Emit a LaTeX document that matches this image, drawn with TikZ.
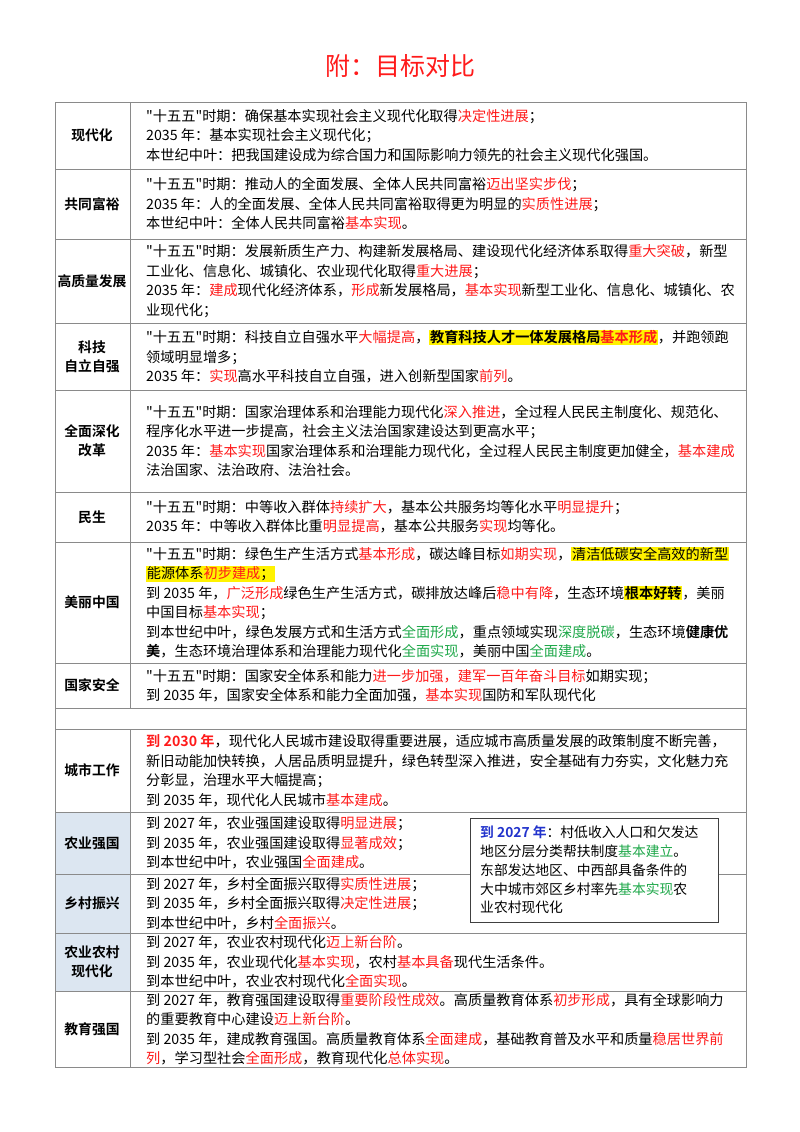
\documentclass[tikz,border=0pt]{standalone}
\usepackage{fontspec}
\setmainfont{Noto Sans CJK SC}[BoldFont={Noto Sans CJK SC Bold},Ligatures=TeXOff]
\definecolor{myred}{HTML}{FF1A1A}
\definecolor{mygreen}{HTML}{1FA84A}
\definecolor{myblue}{HTML}{2233CC}
\definecolor{gridc}{HTML}{8A8A8A}
\definecolor{cellblue}{HTML}{DCE6F1}
\newcommand\myR[1]{\textcolor{myred}{#1}}
\newcommand\myG[1]{\textcolor{mygreen}{#1}}
\newcommand\myY[1]{{\setlength\fboxsep{0.6pt}\colorbox{yellow}{#1}}}
\newcommand\qq{"十五五"时期}
\begin{document}
\begin{tikzpicture}[x=1pt,y=-1pt,
  lab/.style={font=\bfseries\fontsize{13.8}{19}\selectfont,align=center,inner sep=0},
  txt/.style={font=\fontsize{14.2}{19.5}\selectfont,align=left,anchor=west,inner sep=0},
  grid/.style={draw=gridc,line width=0.9pt}]
\useasboundingbox (0,0) rectangle (800,1132);
\node (title) at (400,66) {\fontsize{25}{30}\selectfont\textcolor{myred}{附：目标对比}};
% shading
\fill[cellblue] (55,812) rectangle (130,991);
% grid
\draw[grid] (55,102) rectangle (746,1067);
\draw[grid] (130,102) -- (130,708) (130,729) -- (130,1067);
\foreach \y in {169,239,323,390,492,542,663,708,729,812,874,933,991}
  \draw[grid] (55,\y) -- (746,\y);
% labels
\node[lab] (l1) at (92,135.5) {现代化};
\node[lab] (l2) at (92,204) {共同富裕};
\node[lab] (l3) at (92,281) {高质量发展};
\node[lab] (l4) at (92,356.5) {科技\\自立自强};
\node[lab] (l5) at (92,441) {全面深化\\改革};
\node[lab] (l6) at (92,517) {民生};
\node[lab] (l7) at (92,602.5) {美丽中国};
\node[lab] (l8) at (92,685.5) {国家安全};
\node[lab] (l9) at (92,770.5) {城市工作};
\node[lab] (l10) at (92,843) {农业强国};
\node[lab] (l11) at (92,903.5) {乡村振兴};
\node[lab] (l12) at (92,962) {农业农村\\现代化};
\node[lab] (l13) at (92,1029) {教育强国};
% texts
\node[txt] (t1) at (146,135.5) {\qq：确保基本实现社会主义现代化取得\myR{决定性进展}；\\2035 年：基本实现社会主义现代化；\\本世纪中叶：把我国建设成为综合国力和国际影响力领先的社会主义现代化强国。};
\node[txt] (t2) at (146,204) {\qq：推动人的全面发展、全体人民共同富裕\myR{迈出坚实步伐}；\\2035 年：人的全面发展、全体人民共同富裕取得更为明显的\myR{实质性进展}；\\本世纪中叶：全体人民共同富裕\myR{基本实现}。};
\node[txt] (t3) at (146,281) {\qq：发展新质生产力、构建新发展格局、建设现代化经济体系取得\myR{重大突破}，新型\\工业化、信息化、城镇化、农业现代化取得\myR{重大进展}；\\2035 年：\myR{建成}现代化经济体系，\myR{形成}新发展格局，\myR{基本实现}新型工业化、信息化、城镇化、农\\业现代化；};
\node[txt] (t4) at (146,356.5) {\qq：科技自立自强水平\myR{大幅提高}，\myY{\textbf{教育科技人才一体发展格局}\myR{\textbf{基本形成}}}，并跑领跑\\领域明显增多；\\2035 年：\myR{实现}高水平科技自立自强，进入创新型国家\myR{前列}。};
\node[txt] (t5) at (146,441) {\qq：国家治理体系和治理能力现代化\myR{深入推进}，全过程人民民主制度化、规范化、\\程序化水平进一步提高，社会主义法治国家建设达到更高水平；\\2035 年：\myR{基本实现}国家治理体系和治理能力现代化，全过程人民民主制度更加健全，\myR{基本建成}\\法治国家、法治政府、法治社会。};
\node[txt] (t6) at (146,517) {\qq：中等收入群体\myR{持续扩大}，基本公共服务均等化水平\myR{明显提升}；\\2035 年：中等收入群体比重\myR{明显提高}，基本公共服务\myR{实现}均等化。};
\node[txt] (t7) at (146,602.5) {\qq：绿色生产生活方式\myR{基本形成}，碳达峰目标\myR{如期实现}，\myY{清洁低碳安全高效的新型}\\\myY{能源体系\myR{初步建成}；}\\到 2035 年，\myR{广泛形成}绿色生产生活方式，碳排放达峰后\myR{稳中有降}，生态环境\myY{\textbf{根本好转}}，美丽\\中国目标\myR{基本实现}；\\到本世纪中叶，绿色发展方式和生活方式\myG{全面形成}，重点领域实现\myG{深度脱碳}，生态环境\textbf{健康优}\\\textbf{美}，生态环境治理体系和治理能力现代化\myG{全面实现}，美丽中国\myG{全面建成}。};
\node[txt] (t8) at (146,685.5) {\qq：国家安全体系和能力\myR{进一步加强，建军一百年奋斗目标}如期实现；\\到 2035 年，国家安全体系和能力全面加强，\myR{基本实现}国防和军队现代化};
\node[txt] (t9) at (146,770.5) {\myR{\textbf{到 2030 年}}，现代化人民城市建设取得重要进展，适应城市高质量发展的政策制度不断完善，\\新旧动能加快转换，人居品质明显提升，绿色转型深入推进，安全基础有力夯实，文化魅力充\\分彰显，治理水平大幅提高；\\到 2035 年，现代化人民城市\myR{基本建成}。};
\node[txt] (t10) at (146,843) {到 2027 年，农业强国建设取得\myR{明显进展}；\\到 2035 年，农业强国建设取得\myR{显著成效}；\\到本世纪中叶，农业强国\myR{全面建成}。};
\node[txt] (t11) at (146,903.5) {到 2027 年，乡村全面振兴取得\myR{实质性进展}；\\到 2035 年，乡村全面振兴取得\myR{决定性进展}；\\到本世纪中叶，乡村\myR{全面振兴}。};
\node[txt] (t12) at (146,962) {到 2027 年，农业农村现代化\myR{迈上新台阶}。\\到 2035 年，农业现代化\myR{基本实现}，农村\myR{基本具备}现代生活条件。\\到本世纪中叶，农业农村现代化\myR{全面实现}。};
\node[txt] (t13) at (146,1029) {到 2027 年，教育强国建设取得\myR{重要阶段性成效}。高质量教育体系\myR{初步形成}，具有全球影响力\\的重要教育中心建设\myR{迈上新台阶}。\\到 2035 年，建成教育强国。高质量教育体系\myR{全面建成}，基础教育普及水平和质量\myR{稳居世界前}\\\myR{列}，学习型社会\myR{全面形成}，教育现代化\myR{总体实现}。};
% side box
\draw[draw=black!75,fill=white,line width=0.9pt] (470,818) rectangle (718,922);
\node[txt,font=\fontsize{13.8}{18.8}\selectfont] (box) at (480,870) {\textcolor{myblue}{\textbf{到 2027 年}}：村低收入人口和欠发达\\地区分层分类帮扶制度\myG{基本建立}。\\东部发达地区、中西部具备条件的\\大中城市郊区乡村率先\myG{基本实现}农\\业农村现代化};
\end{tikzpicture}
\end{document}
